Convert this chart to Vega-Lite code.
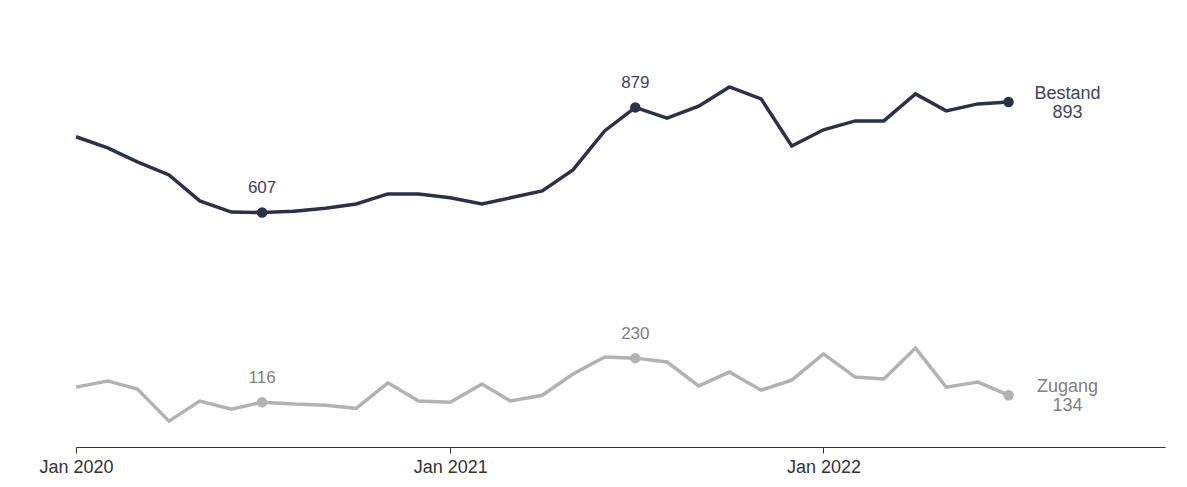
{
  "$schema": "https://vega.github.io/schema/vega-lite/v6.json",
  "width": 1089,
  "height": 425,
  "autosize": {"type": "none"},
  "padding": {"left": 76, "top": 22, "right": 22, "bottom": 40},
  "background": "white",
  "config": {"view": {"stroke": null}, "font": "Liberation Sans"},
  "data": {"values": [
    {"date": "2020-01-01", "series": "Bestand", "value": 803},
    {"date": "2020-02-01", "series": "Bestand", "value": 774},
    {"date": "2020-03-01", "series": "Bestand", "value": 738},
    {"date": "2020-04-01", "series": "Bestand", "value": 704},
    {"date": "2020-05-01", "series": "Bestand", "value": 637},
    {"date": "2020-06-01", "series": "Bestand", "value": 608},
    {"date": "2020-07-01", "series": "Bestand", "value": 607},
    {"date": "2020-08-01", "series": "Bestand", "value": 610},
    {"date": "2020-09-01", "series": "Bestand", "value": 618},
    {"date": "2020-10-01", "series": "Bestand", "value": 629},
    {"date": "2020-11-01", "series": "Bestand", "value": 655},
    {"date": "2020-12-01", "series": "Bestand", "value": 655},
    {"date": "2021-01-01", "series": "Bestand", "value": 645},
    {"date": "2021-02-01", "series": "Bestand", "value": 629},
    {"date": "2021-03-01", "series": "Bestand", "value": 645},
    {"date": "2021-04-01", "series": "Bestand", "value": 663},
    {"date": "2021-05-01", "series": "Bestand", "value": 717},
    {"date": "2021-06-01", "series": "Bestand", "value": 818},
    {"date": "2021-07-01", "series": "Bestand", "value": 879},
    {"date": "2021-08-01", "series": "Bestand", "value": 851},
    {"date": "2021-09-01", "series": "Bestand", "value": 882},
    {"date": "2021-10-01", "series": "Bestand", "value": 932},
    {"date": "2021-11-01", "series": "Bestand", "value": 901},
    {"date": "2021-12-01", "series": "Bestand", "value": 779},
    {"date": "2022-01-01", "series": "Bestand", "value": 821},
    {"date": "2022-02-01", "series": "Bestand", "value": 844},
    {"date": "2022-03-01", "series": "Bestand", "value": 844},
    {"date": "2022-04-01", "series": "Bestand", "value": 914},
    {"date": "2022-05-01", "series": "Bestand", "value": 870},
    {"date": "2022-06-01", "series": "Bestand", "value": 888},
    {"date": "2022-07-01", "series": "Bestand", "value": 893},
    {"date": "2020-01-01", "series": "Zugang", "value": 155},
    {"date": "2020-02-01", "series": "Zugang", "value": 171},
    {"date": "2020-03-01", "series": "Zugang", "value": 150},
    {"date": "2020-04-01", "series": "Zugang", "value": 67},
    {"date": "2020-05-01", "series": "Zugang", "value": 119},
    {"date": "2020-06-01", "series": "Zugang", "value": 98},
    {"date": "2020-07-01", "series": "Zugang", "value": 116},
    {"date": "2020-08-01", "series": "Zugang", "value": 111},
    {"date": "2020-09-01", "series": "Zugang", "value": 108},
    {"date": "2020-10-01", "series": "Zugang", "value": 100},
    {"date": "2020-11-01", "series": "Zugang", "value": 166},
    {"date": "2020-12-01", "series": "Zugang", "value": 119},
    {"date": "2021-01-01", "series": "Zugang", "value": 116},
    {"date": "2021-02-01", "series": "Zugang", "value": 163},
    {"date": "2021-03-01", "series": "Zugang", "value": 119},
    {"date": "2021-04-01", "series": "Zugang", "value": 134},
    {"date": "2021-05-01", "series": "Zugang", "value": 189},
    {"date": "2021-06-01", "series": "Zugang", "value": 233},
    {"date": "2021-07-01", "series": "Zugang", "value": 230},
    {"date": "2021-08-01", "series": "Zugang", "value": 220},
    {"date": "2021-09-01", "series": "Zugang", "value": 158},
    {"date": "2021-10-01", "series": "Zugang", "value": 194},
    {"date": "2021-11-01", "series": "Zugang", "value": 147},
    {"date": "2021-12-01", "series": "Zugang", "value": 173},
    {"date": "2022-01-01", "series": "Zugang", "value": 241},
    {"date": "2022-02-01", "series": "Zugang", "value": 181},
    {"date": "2022-03-01", "series": "Zugang", "value": 176},
    {"date": "2022-04-01", "series": "Zugang", "value": 256},
    {"date": "2022-05-01", "series": "Zugang", "value": 155},
    {"date": "2022-06-01", "series": "Zugang", "value": 168},
    {"date": "2022-07-01", "series": "Zugang", "value": 134}
  ]},
  "encoding": {
    "x": {
      "field": "date", "type": "temporal",
      "scale": {"domain": [{"year": 2020, "month": 1, "date": 1}, {"year": 2022, "month": 12, "date": 1}]},
      "axis": {
        "title": null, "format": "%b %Y", "grid": false,
        "values": [{"year": 2020, "month": 1, "date": 1}, {"year": 2021, "month": 1, "date": 1}, {"year": 2022, "month": 1, "date": 1}],
        "domainColor": "#333333", "domainWidth": 1,
        "tickColor": "#333333", "tickSize": 6,
        "labelFontSize": 18, "labelColor": "#333333", "labelPadding": 5,
        "labelFont": "Liberation Sans",
        "labelAlign": "center", "labelFlush": false, "labelBound": false, "labelOverlap": false
      }
    },
    "y": {
      "field": "value", "type": "quantitative",
      "scale": {"domain": [0, 1100], "nice": false, "zero": true},
      "axis": null
    }
  },
  "layer": [
    {
      "mark": {"type": "line", "strokeWidth": 3.5},
      "encoding": {
        "color": {"field": "series", "type": "nominal", "scale": {"domain": ["Bestand", "Zugang"], "range": ["#2b3248", "#b2b2b2"]}, "legend": null}
      }
    },
    {
      "transform": [{"filter": "month(datum.date) == 6"}],
      "mark": {"type": "point", "filled": true, "size": 110, "opacity": 1},
      "encoding": {
        "color": {"field": "series", "type": "nominal", "scale": {"domain": ["Bestand", "Zugang"], "range": ["#2b3248", "#b2b2b2"]}, "legend": null}
      }
    },
    {
      "transform": [{"filter": "month(datum.date) == 6 && year(datum.date) < 2022"}],
      "mark": {"type": "text", "dy": -24, "fontSize": 17, "font": "Liberation Sans", "align": "center", "baseline": "middle"},
      "encoding": {
        "text": {"field": "value", "type": "quantitative"},
        "color": {"field": "series", "type": "nominal", "scale": {"domain": ["Bestand", "Zugang"], "range": ["#40455a", "#808080"]}, "legend": null}
      }
    },
    {
      "transform": [{"filter": "month(datum.date) == 6 && year(datum.date) == 2022"}],
      "mark": {"type": "text", "dx": 59, "dy": -8, "fontSize": 18, "font": "Liberation Sans", "align": "center", "baseline": "middle"},
      "encoding": {
        "text": {"field": "series", "type": "nominal"},
        "color": {"field": "series", "type": "nominal", "scale": {"domain": ["Bestand", "Zugang"], "range": ["#40455a", "#808080"]}, "legend": null}
      }
    },
    {
      "transform": [{"filter": "month(datum.date) == 6 && year(datum.date) == 2022"}],
      "mark": {"type": "text", "dx": 59, "dy": 11, "fontSize": 18, "font": "Liberation Sans", "align": "center", "baseline": "middle"},
      "encoding": {
        "text": {"field": "value", "type": "quantitative"},
        "color": {"field": "series", "type": "nominal", "scale": {"domain": ["Bestand", "Zugang"], "range": ["#40455a", "#808080"]}, "legend": null}
      }
    }
  ],
  "resolve": {"scale": {"color": "independent"}}
}
